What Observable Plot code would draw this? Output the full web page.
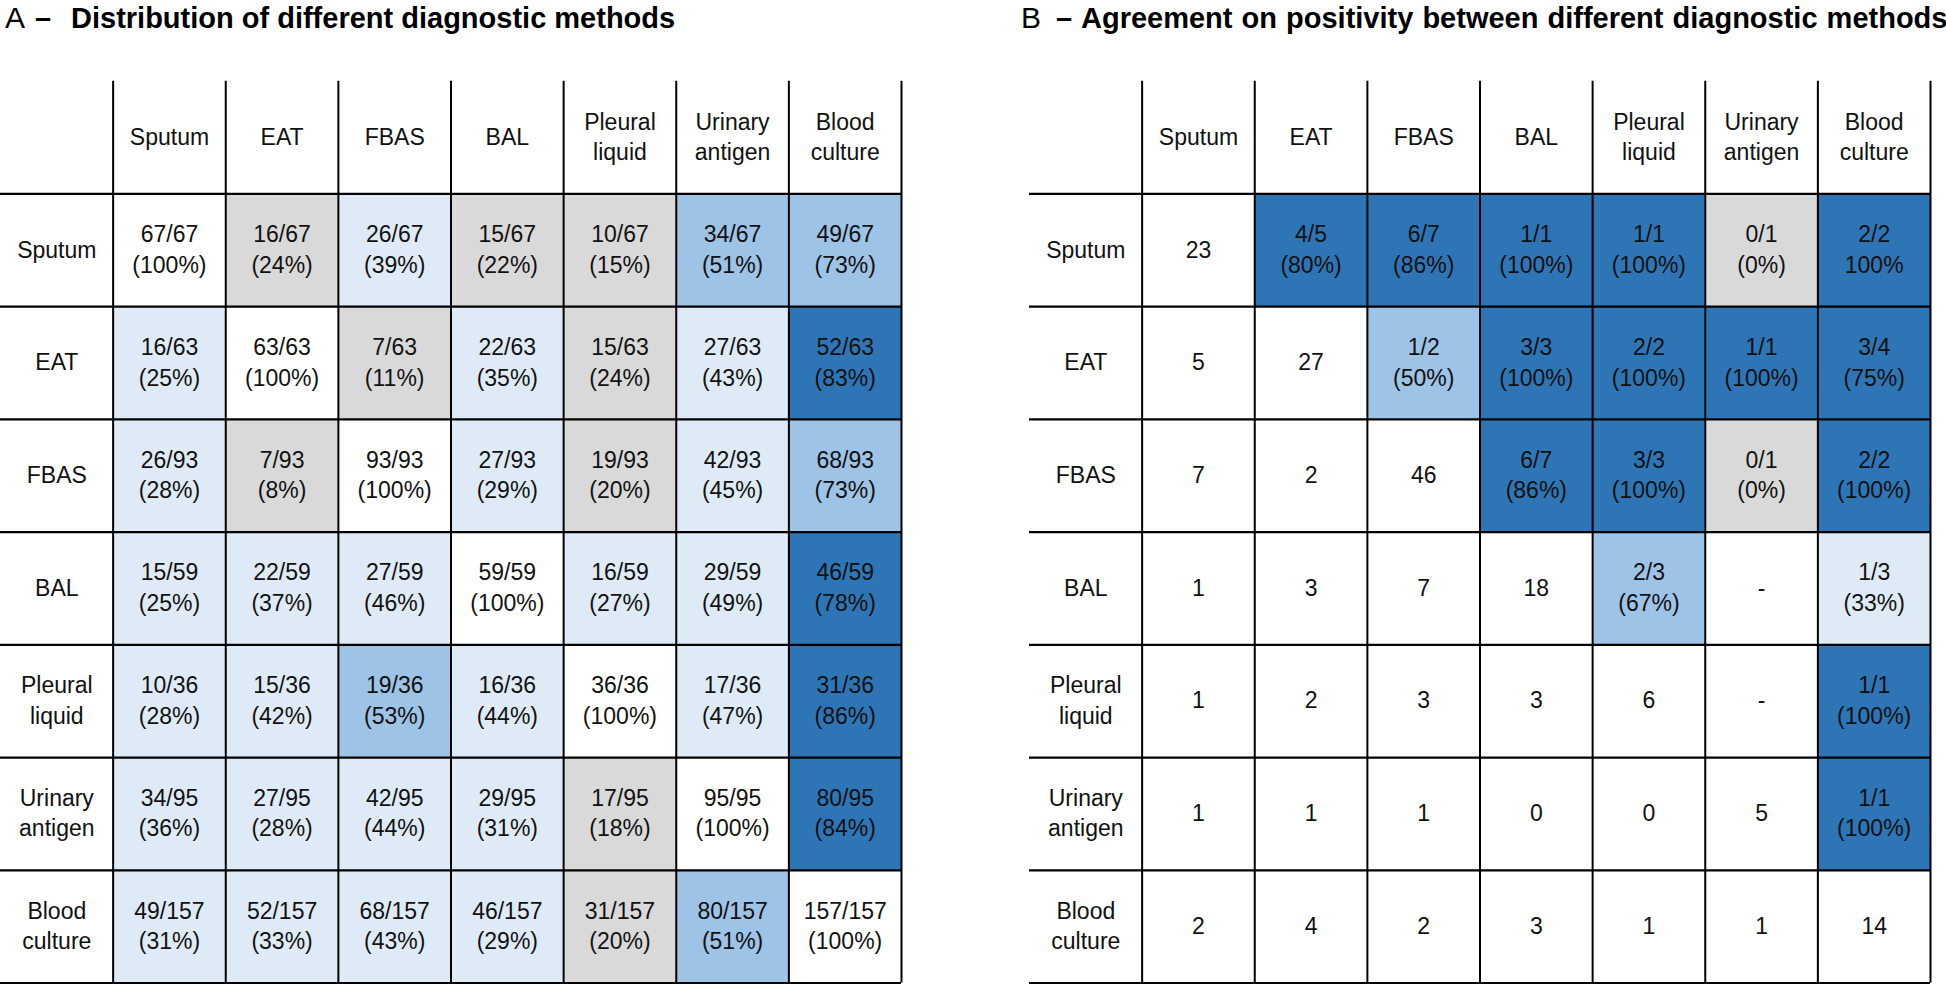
<!DOCTYPE html>
<html><head><meta charset="utf-8">
<script src="https://cdn.jsdelivr.net/npm/d3@7"></script>
<script src="https://cdn.jsdelivr.net/npm/@observablehq/plot@0.6"></script>
<style>
body{margin:0;background:#fff;width:1946px;height:984px;position:relative;overflow:hidden;font-family:"Liberation Sans",Arial,sans-serif;}
.t{position:absolute;top:4px;white-space:nowrap;font-size:29px;font-weight:700;line-height:29px;color:#000;}
.t.letter{font-weight:400;font-size:30px;top:3px;}
.t.wide{word-spacing:1px;}
.chart{position:absolute;top:78px;}
</style></head><body>
<div class="t letter" style="left:5px">A</div>
<div class="t" style="left:35px">–</div>
<div class="t" style="left:71px">Distribution of different diagnostic methods</div>
<div class="t letter" style="left:1021px">B</div>
<div class="t" style="left:1056px">–</div>
<div class="t wide" style="left:1081px">Agreement on positivity between different diagnostic methods</div>
<div id="chartA" class="chart" style="left:0px"></div>
<div id="chartB" class="chart" style="left:1029px"></div>
<script>
// ---- categories ----
const methods = ["Sputum", "EAT", "FBAS", "BAL", "Pleural liquid", "Urinary antigen", "Blood culture"];
const methodLabels = ["Sputum", "EAT", "FBAS", "BAL", "Pleural\nliquid", "Urinary\nantigen", "Blood\nculture"];

// ---- Panel A: distribution (numerator per row / row total) ----
const rowTotals = [67, 63, 93, 59, 36, 95, 157];
const distSputum = [67, 16, 26, 15, 10, 34, 49];
const distEAT = [16, 63, 7, 22, 15, 27, 52];
const distFBAS = [26, 7, 93, 27, 19, 42, 68];
const distBAL = [15, 22, 27, 59, 16, 29, 46];
const distPleural = [10, 15, 19, 16, 36, 17, 31];
const distUrinary = [34, 27, 42, 29, 17, 95, 80];
const distBlood = [49, 52, 68, 46, 31, 80, 157];

// ---- Panel B: agreement on positivity ----
// lower triangle incl. diagonal: counts
const posSputum = [23];
const posEAT = [5, 27];
const posFBAS = [7, 2, 46];
const posBAL = [1, 3, 7, 18];
const posPleural = [1, 2, 3, 3, 6];
const posUrinary = [1, 1, 1, 0, 0, 5];
const posBlood = [2, 4, 2, 3, 1, 1, 14];
// upper triangle (row-major): agreeing positives / both tested (null = "-")
const agreeNum = [4, 6, 1, 1, 0, 2,  1, 3, 2, 1, 3,  6, 3, 0, 2,  2, null, 1,  null, 1,  1];
const agreeDen = [5, 7, 1, 1, 1, 2,  2, 3, 2, 1, 4,  7, 3, 1, 2,  3, null, 3,  null, 1,  1];
const noParenCells = [["Sputum", "Blood culture"]];

// ---- colour bins ----
const colorBins = [25, 50, 75];
const colorRange = ["#d9d9d9", "#deebf7", "#9dc3e6", "#2e75b6"];

const FONT = '"Liberation Sans", Arial, Helvetica, sans-serif';

function headerTexts() {
  const t = [];
  methodLabels.forEach((m, j) => t.push({col: j + 1, row: 0, label: m}));
  methodLabels.forEach((m, i) => t.push({col: 0, row: i + 1, label: m}));
  return t;
}

// Panel A cells
const distRows = [distSputum, distEAT, distFBAS, distBAL, distPleural, distUrinary, distBlood];
const cellsA = [];
distRows.forEach((row, i) => row.forEach((n, j) => {
  const d = rowTotals[i];
  const p = n / d * 100;
  cellsA.push({col: j + 1, row: i + 1, label: `${n}/${d}\n(${Math.round(p)}%)`, pct: i === j ? null : p});
}));

// Panel B cells
const posRows = [posSputum, posEAT, posFBAS, posBAL, posPleural, posUrinary, posBlood];
const cellsB = [];
posRows.forEach((row, i) => row.forEach((n, j) => {
  cellsB.push({col: j + 1, row: i + 1, label: String(n), pct: null});
}));
let k = 0;
for (let i = 0; i < methods.length; i++) {
  for (let j = i + 1; j < methods.length; j++, k++) {
    const n = agreeNum[k], d = agreeDen[k];
    if (n == null) { cellsB.push({col: j + 1, row: i + 1, label: "-", pct: null}); continue; }
    const p = n / d * 100;
    const bare = noParenCells.some(([r, c]) => r === methods[i] && c === methods[j]);
    const pl = bare ? `${Math.round(p)}%` : `(${Math.round(p)}%)`;
    cellsB.push({col: j + 1, row: i + 1, label: `${n}/${d}\n${pl}`, pct: p});
  }
}

const gridIdx = d3.range(1, methods.length + 2);

function table(cells) {
  const n = methods.length + 1;
  return Plot.plot({
    width: 904, height: 906,
    marginLeft: 0, marginRight: 3, marginTop: 2.7, marginBottom: 1.5,
    x: {domain: [0, n], axis: null},
    y: {domain: [0, n], reverse: true, axis: null},
    color: {type: "threshold", domain: colorBins, range: colorRange},
    style: {fontFamily: FONT, background: "white", overflow: "visible"},
    marks: [
      Plot.rect(cells.filter(d => d.pct != null), {
        x1: "col", x2: d => d.col + 1, y1: "row", y2: d => d.row + 1, fill: "pct"
      }),
      Plot.ruleX(gridIdx, {y1: 0, y2: n, stroke: "#000", strokeWidth: 2}),
      Plot.ruleY(gridIdx, {x1: 0, x2: n, stroke: "#000", strokeWidth: 2.2}),
      Plot.text(headerTexts().concat(cells), {
        x: d => d.col + 0.5, y: d => d.row + 0.5, text: "label",
        fontSize: 23, lineHeight: 1.33, fill: "#111", dy: -2.5
      })
    ]
  });
}

document.getElementById("chartA").appendChild(table(cellsA));
document.getElementById("chartB").appendChild(table(cellsB));
</script>
</body></html>
